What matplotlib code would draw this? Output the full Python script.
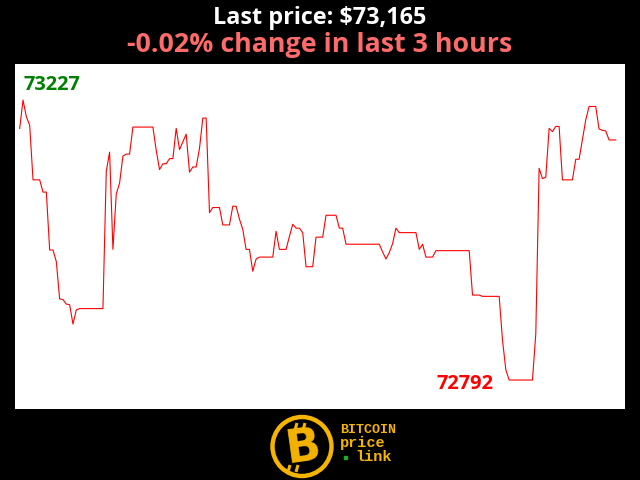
import matplotlib
matplotlib.use("Agg")
import matplotlib.pyplot as plt
from matplotlib.patches import Circle, Rectangle
import numpy as np

# ---- data (one price per minute, last 3 hours) ----
prices = [
    73183, 73227, 73201, 73188, 73103, 73103, 73103, 73084, 73084, 72994,
    72994, 72976, 72918, 72917, 72910, 72909, 72879, 72901, 72903, 72903,
    72903, 72903, 72903, 72903, 72903, 72903, 73116, 73146, 72995, 73081,
    73098, 73140, 73143, 73143, 73185, 73185, 73185, 73185, 73185, 73185,
    73185, 73149, 73119, 73128, 73128, 73136, 73136, 73183, 73150, 73162,
    73174, 73115, 73123, 73123, 73152, 73199, 73199, 73052, 73060, 73060,
    73060, 73033, 73033, 73033, 73062, 73062, 73042, 73026, 72995, 72995,
    72961, 72980, 72983, 72983, 72983, 72983, 72983, 73023, 72995, 72995,
    72995, 73015, 73034, 73028, 73028, 73021, 72968, 72968, 72968, 73014,
    73014, 73014, 73048, 73048, 73048, 73048, 73028, 73028, 73003, 73003,
    73003, 73003, 73003, 73003, 73003, 73003, 73003, 73003, 73003, 72991,
    72980, 72990, 73004, 73028, 73021, 73021, 73021, 73021, 73021, 73021,
    72995, 73003, 72983, 72983, 72983, 72993, 72993, 72993, 72993, 72993,
    72993, 72993, 72993, 72993, 72993, 72993, 72924, 72924, 72924, 72922,
    72922, 72922, 72922, 72922, 72922, 72854, 72808, 72792, 72792, 72792,
    72792, 72792, 72792, 72792, 72792, 72864, 73121, 73105, 73107, 73183,
    73178, 73186, 73186, 73103, 73103, 73103, 73103, 73135, 73135, 73165,
    73196, 73217, 73217, 73217, 73182, 73180, 73179, 73165, 73165, 73165,
]
last_price = 73165
change_pct = -0.02
hours = 3
high_label = "73227"
low_label = "72792"
title_text = f"Last price: ${last_price:,}"
subtitle_text = f"{change_pct:.2f}% change in last {hours} hours"

W, H = 640, 480
fig = plt.figure(figsize=(6.4, 4.8), dpi=100, facecolor="black")

def fx(px):
    return px / W

def fy(py):
    return (H - py) / H

# plot area
ax = fig.add_axes([fx(15), fy(409), fx(625) - fx(15), fy(64) - fy(409)])
ax.set_facecolor("white")
x = np.arange(len(prices))
ax.plot(x, prices, color="red", linewidth=0.8)
ax.set_xlim(-1.41, 181.79)
ax.set_ylim(72747, 73283)
ax.set_xticks([])
ax.set_yticks([])
for s in ax.spines.values():
    s.set_visible(False)

ax.text((23 - 15) / 610, (409 - 85) / 345, high_label, transform=ax.transAxes,
        color="green", fontsize=14.4, fontweight="bold", family="Open Sans",
        ha="left", va="center")
ax.text((437 - 15) / 610, (409 - 384) / 345, low_label, transform=ax.transAxes,
        color="red", fontsize=14.4, fontweight="bold", family="Open Sans",
        ha="left", va="center")

# titles
fig.text(0.5, fy(24.5), title_text, color="white", fontsize=16.8, fontweight="bold",
         family="Open Sans", ha="center", va="baseline")
fig.text(0.5, fy(51.5), subtitle_text, color="#ff6b6b", fontsize=19.3, fontweight="bold",
         family="Open Sans", ha="center", va="baseline")

# logo
gold = "#f5b400"
lax = fig.add_axes([0, 0, 1, 1], facecolor="none")
lax.set_xlim(0, W)
lax.set_ylim(H, 0)
lax.set_axis_off()
lax.add_patch(Circle((302, 446.5), 29.5, fill=False, edgecolor=gold, linewidth=3.2))
lax.text(303, 448, "B", color=gold, fontsize=33, fontweight="bold", family="DejaVu Sans",
         ha="center", va="center", rotation=8)
for bx in (295, 303):
    lax.plot([bx + 2, bx], [423, 430], color=gold, linewidth=2.2, solid_capstyle="butt")
    lax.plot([bx - 5, bx - 7], [465, 472], color=gold, linewidth=2.2, solid_capstyle="butt")
lax.text(340, 433, "BITCOIN", color=gold, fontsize=9.6, fontweight="bold",
         family="Liberation Mono", ha="left", va="baseline")
lax.text(340, 447, "price", color=gold, fontsize=11, fontweight="bold",
         family="Liberation Mono", ha="left", va="baseline")
lax.text(355, 461, "link", color=gold, fontsize=11, fontweight="bold",
         family="Liberation Mono", ha="left", va="baseline")
lax.add_patch(Rectangle((344, 455.5), 3, 3, color="#22aa22"))

fig.savefig("out.png", dpi=100, facecolor="black")
